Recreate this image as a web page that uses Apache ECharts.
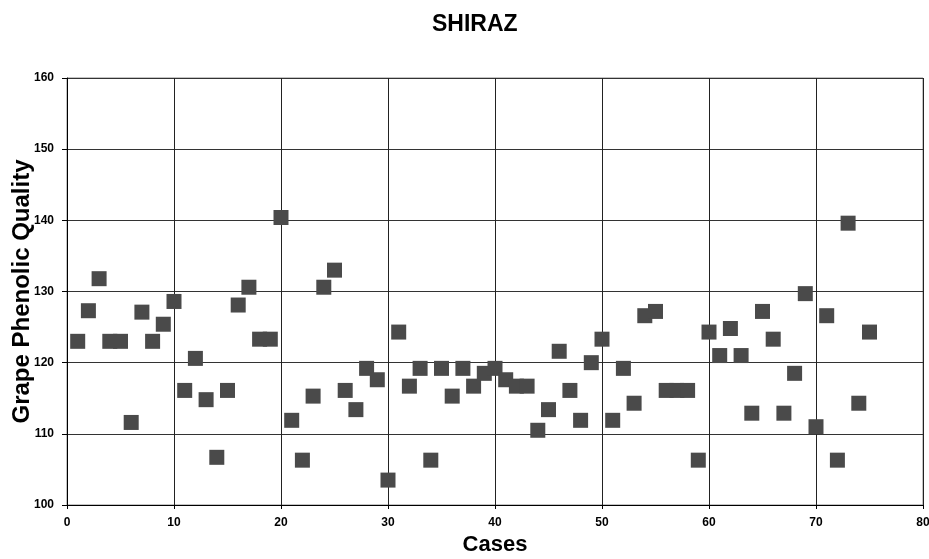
<!DOCTYPE html>
<html><head><meta charset="utf-8">
<script src="https://cdn.jsdelivr.net/npm/echarts@6/dist/echarts.min.js"></script>
<style>html,body{margin:0;padding:0;background:#fff}#c{width:929px;height:559px}</style>
</head><body><div id="c"></div>
<script>
const cases = [];
for (let i = 1; i <= 75; i++) cases.push(i);
const quality = [
  123.0, 127.3, 131.8, 123.0, 123.0, 111.6, 127.1, 123.0, 125.4, 128.6,
  116.1, 120.6, 114.8, 106.7, 116.1, 128.1, 130.6, 123.3, 123.3, 140.4,
  111.9, 106.3, 115.3, 130.6, 133.0, 116.1, 113.4, 119.2, 117.6, 103.5,
  124.3, 116.7, 119.2, 106.3, 119.2, 115.3, 119.2, 116.7, 118.5, 119.2,
  117.6, 116.7, 116.7, 110.5, 113.4, 121.6, 116.1, 111.9, 120.0, 123.3,
  111.9, 119.2, 114.3, 126.6, 127.2, 116.1, 116.1, 116.1, 106.3, 124.3,
  121.0, 124.8, 121.0, 112.9, 127.2, 123.3, 112.9, 118.5, 129.7, 111.0,
  126.6, 106.3, 139.6, 114.3, 124.3
];
const xTicks = [0, 10, 20, 30, 40, 50, 60, 70, 80];
const yTicks = [100, 110, 120, 130, 140, 150, 160];
const title = 'SHIRAZ';
const xName = 'Cases';
const yName = 'Grape Phenolic Quality';

const data = cases.map((c, i) => [c, quality[i]]);
const font = '"Liberation Sans", Arial, sans-serif';
const chart = echarts.init(document.getElementById('c'), null, {renderer: 'canvas'});
chart.setOption({
  animation: false,
  backgroundColor: '#fff',
  title: {
    text: title, left: 427, top: 8,
    textStyle: {fontFamily: font, fontWeight: 'bold', fontSize: 23, color: '#000'}
  },
  grid: {left: 67, right: 6, top: 78, bottom: 54, show: true, borderColor: '#888', borderWidth: 1,
         containLabel: false, outerBoundsMode: 'none'},
  xAxis: {
    type: 'value', min: xTicks[0], max: xTicks[xTicks.length - 1], interval: 10,
    name: xName, nameLocation: 'middle', nameGap: 29, nameMoveOverlap: false,
    nameTextStyle: {fontFamily: font, fontWeight: 'bold', fontSize: 22, color: '#000'},
    axisLine: {show: true, lineStyle: {color: '#000', width: 1}},
    axisTick: {show: true, inside: false, length: 4, lineStyle: {color: '#000'}},
    axisLabel: {fontFamily: font, fontWeight: 'bold', fontSize: 12, color: '#000', margin: 12},
    splitLine: {show: true, lineStyle: {color: '#222', width: 1}}
  },
  yAxis: {
    type: 'value', min: yTicks[0], max: yTicks[yTicks.length - 1], interval: 10,
    name: yName, nameLocation: 'middle', nameGap: 33, nameRotate: 90, nameMoveOverlap: false,
    nameTextStyle: {fontFamily: font, fontWeight: 'bold', fontSize: 24, color: '#000'},
    axisLine: {show: true, lineStyle: {color: '#000', width: 1}},
    axisTick: {show: true, inside: false, length: 5, lineStyle: {color: '#000'}},
    axisLabel: {fontFamily: font, fontWeight: 'bold', fontSize: 12, color: '#000', margin: 13},
    splitLine: {show: true, lineStyle: {color: '#333', width: 1}}
  },
  series: [{
    type: 'scatter',
    data: data,
    symbol: 'rect',
    symbolSize: 15,
    itemStyle: {color: '#4a4a4a', opacity: 1}
  }]
});
</script></body></html>
